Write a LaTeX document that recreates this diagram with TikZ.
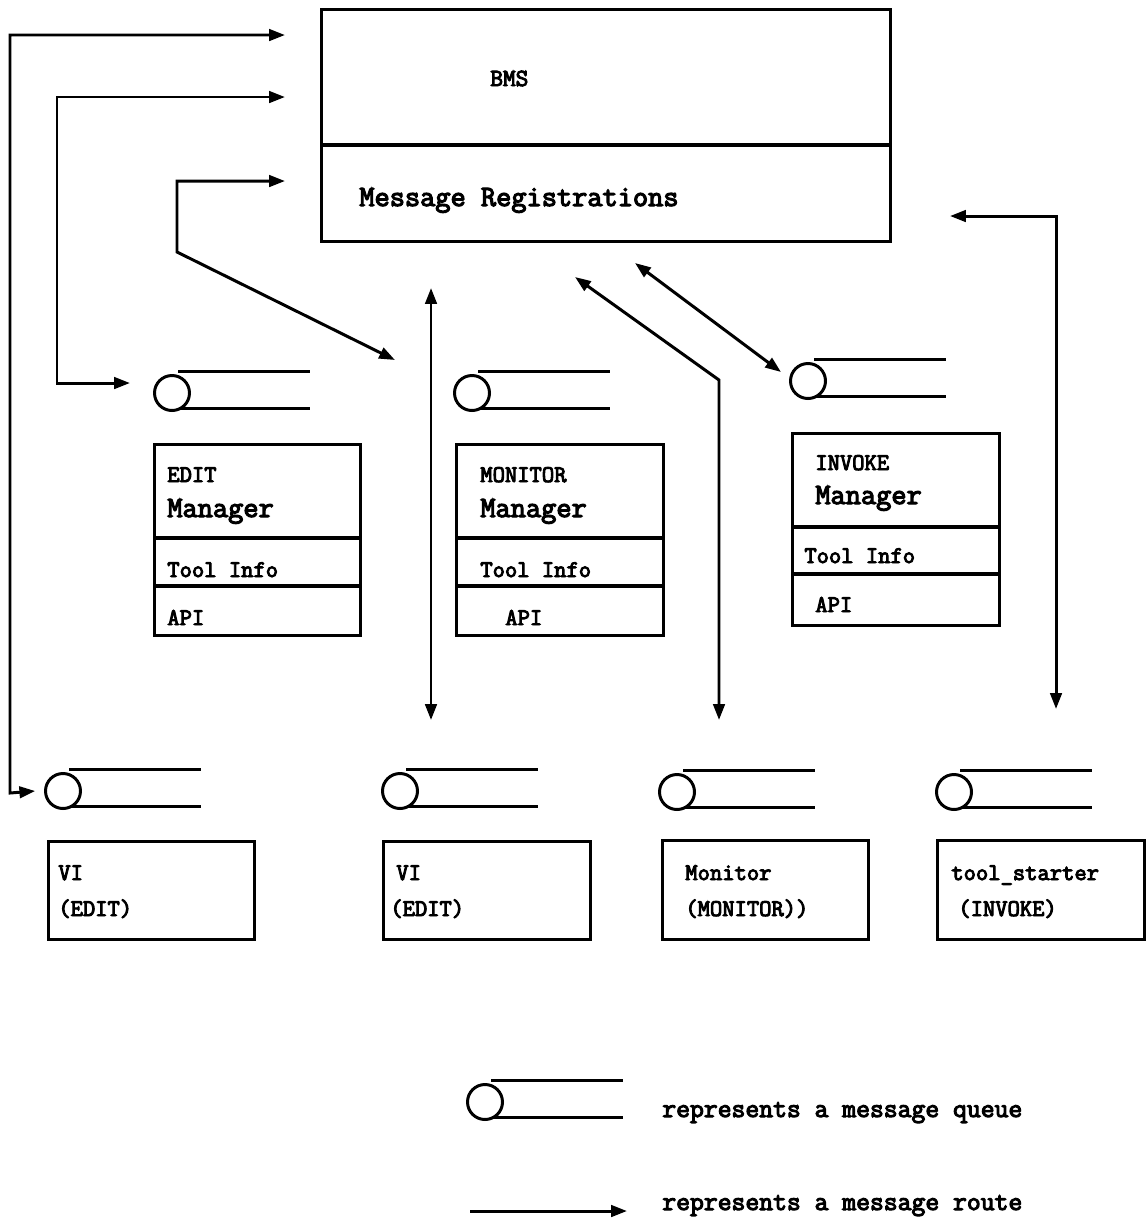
\documentclass[tikz,border=0pt]{standalone}
\usepackage{fontspec}
\usetikzlibrary{arrows.meta,positioning,calc}

\newfontfamily\boldtt{Latin Modern Mono}[FakeBold=4]
\newcommand\ttsmall{\boldtt\fontsize{13.6}{16}\selectfont}
\newcommand\ttbig{\boldtt\fontsize{16.8}{19}\selectfont}
\newcommand\ttlegend{\boldtt\fontsize{15.3}{17}\selectfont}
% message queue: circle with two lines
\newcommand\msgqueue[3]{%
  \node[qcirc] (#1) at (#2,#3) {};
  \draw[qline] ($(#1)+(6,-22)$) -- ++(132,0);
  \draw[qline] ($(#1)+(8,15)$) -- ++(130,0);
}

\begin{document}
\begin{tikzpicture}[x=0.02cm, y=-0.02cm,
  box/.style={rectangle, draw, line width=1.7pt, anchor=north west, inner sep=0pt},
  divider/.style={line width=2.8pt},
  qcirc/.style={circle, draw, line width=1.7pt, minimum size=0.7cm, inner sep=0pt},
  qline/.style={line width=1.7pt},
  lbl/.style={anchor=base west, inner sep=0pt, font=\ttsmall},
  biglbl/.style={lbl, font=\ttbig},
  leglbl/.style={lbl, font=\ttlegend},
  >={Triangle[length=9pt,width=6.5pt]},
  route/.style={line width=1.7pt, ->},
  route2/.style={line width=1.7pt, <->}
]
\useasboundingbox (0,0) rectangle (1147,1228);

\node[box, minimum width=11.38cm, minimum height=4.64cm] (bms) at (320,8) {};
\draw[divider] ($(bms.north west)+(0,137)$) -- ($(bms.north east)+(0,137)$);
\node[lbl, font=\boldtt\fontsize{14}{17}\selectfont] (bms-title) at (490,86) {BMS};
\node[biglbl] (bms-reg) at (359,206) {Message Registrations};

\node[box, minimum width=4.12cm, minimum height=3.82cm] (edit) at (153,443) {};
\draw[divider] ($(edit.north west)+(0,95)$) -- ($(edit.north east)+(0,95)$);
\draw[divider] ($(edit.north west)+(0,143)$) -- ($(edit.north east)+(0,143)$);
\node[lbl] (edit-kind) at (167,482) {EDIT};
\node[biglbl] (edit-title) at (167,517) {Manager};
\node[lbl] (edit-info) at (167,577) {Tool Info};
\node[lbl] (edit-api) at (167,625) {API};

\node[box, minimum width=4.14cm, minimum height=3.82cm] (mon) at (455,443) {};
\draw[divider] ($(mon.north west)+(0,95)$) -- ($(mon.north east)+(0,95)$);
\draw[divider] ($(mon.north west)+(0,143)$) -- ($(mon.north east)+(0,143)$);
\node[lbl] (mon-kind) at (480,482) {MONITOR};
\node[biglbl] (mon-title) at (480,517) {Manager};
\node[lbl] (mon-info) at (480,577) {Tool Info};
\node[lbl] (mon-api) at (505,625) {API};

\node[box, minimum width=4.14cm, minimum height=3.84cm] (inv) at (791,432) {};
\draw[divider] ($(inv.north west)+(0,95)$) -- ($(inv.north east)+(0,95)$);
\draw[divider] ($(inv.north west)+(0,142)$) -- ($(inv.north east)+(0,142)$);
\node[lbl] (inv-kind) at (815,470) {INVOKE};
\node[biglbl] (inv-title) at (815,504) {Manager};
\node[lbl] (inv-info) at (804,563) {Tool Info};
\node[lbl] (inv-api) at (815,612) {API};

\node[box, minimum width=4.12cm, minimum height=1.96cm] (via) at (47,840) {};
\node[lbl] (via-name) at (58,880) {VI};
\node[lbl] (via-kind) at (58,916) {(EDIT)};
\node[box, minimum width=4.14cm, minimum height=1.96cm] (vib) at (382,840) {};
\node[lbl] (vib-name) at (396,880) {VI};
\node[lbl] (vib-kind) at (390,916) {(EDIT)};
\node[box, minimum width=4.12cm, minimum height=1.98cm] (monitor) at (661,839) {};
\node[lbl] (monitor-name) at (685,880) {Monitor};
\node[lbl] (monitor-kind) at (685,916) {(MONITOR))};
\node[box, minimum width=4.14cm, minimum height=1.98cm] (tool) at (936,839) {};
\node[lbl] (tool-name) at (951,880) {tool\_starter};
\node[lbl] (tool-kind) at (958,916) {(INVOKE)};

\msgqueue{qedit}{172}{393}
\msgqueue{qmon}{472}{393}
\msgqueue{qinv}{808}{381}
\msgqueue{qvia}{63}{791}
\msgqueue{qvib}{400}{791}
\msgqueue{qmonitor}{677}{792}
\msgqueue{qtool}{954}{792}
\msgqueue{qlegend}{485}{1102}

\coordinate (in1) at (285,35);
\coordinate (in2) at (285,97);
\coordinate (in3) at (285,181);
\coordinate (in4) at (950,216);
\draw[route2] (in1) -| (10,793) -- ([xshift=-5pt]qvia.west);
\draw[route2] (in2) -| (57,383) -- (130,383);
\draw[route2] (in3) -| (177,252) -- (395,360);
\draw[route2] (431,288) -- (431,720);
\draw[route2] (575,277) -- (719,380) -- (719,720);
\draw[route2] (635,263) -- (781,372);
\draw[route2] (in4) -| (1056,709);

\coordinate (leg-start) at (470,1211);
\draw[route] (leg-start) -- ++(157,0);
\node[leglbl] (leg-queue) at (662,1117) {represents a message queue};
\node[leglbl] (leg-route) at (662,1210) {represents a message route};
\end{tikzpicture}
\end{document}
